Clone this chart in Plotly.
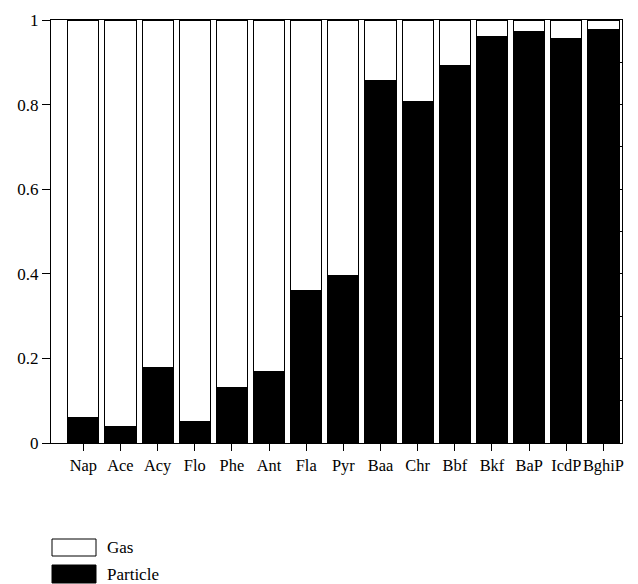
import plotly.graph_objects as go

categories = ["Nap", "Ace", "Acy", "Flo", "Phe", "Ant", "Fla", "Pyr",
              "Baa", "Chr", "Bbf", "Bkf", "BaP", "IcdP", "BghiP"]
particle = [0.06, 0.04, 0.178, 0.05, 0.131, 0.169, 0.361, 0.395,
            0.858, 0.808, 0.893, 0.962, 0.972, 0.957, 0.977]
gas = [round(1 - p, 3) for p in particle]
series_names = ["Gas", "Particle"]
yticks = [0, 0.2, 0.4, 0.6, 0.8, 1]
ytick_text = ["0", "0.2", "0.4", "0.6", "0.8", "1"]

W, H = 638, 584
L, R, T, B = 51, 622, 20, 443
FONT = "Liberation Serif"
FS = 17
FSX = 16.4

fig = go.Figure()
fig.add_trace(go.Bar(x=categories, y=particle, name=series_names[1],
                     marker=dict(color="black", line=dict(color="black", width=1)),
                     showlegend=False))
fig.add_trace(go.Bar(x=categories, y=gas, name=series_names[0],
                     marker=dict(color="white", line=dict(color="black", width=1)),
                     showlegend=False))
# invisible trace for right-side minor ticks axis
fig.add_trace(go.Scatter(x=[categories[0]], y=[0], yaxis="y2", mode="markers",
                         marker=dict(opacity=0), showlegend=False, hoverinfo="skip"))

def px_x(p):
    return (p - L) / (R - L)

def px_y(p):
    return (B - p) / (B - T)

# custom legend
legend_items = [(series_names[0], "white", 539, 556), (series_names[1], "black", 565, 583)]
for name, fill, y0, y1 in legend_items:
    fig.add_shape(type="rect", xref="paper", yref="paper",
                  x0=px_x(52), x1=px_x(96), y0=px_y(y1), y1=px_y(y0),
                  fillcolor=fill, line=dict(color="black", width=1))
    fig.add_annotation(xref="paper", yref="paper", x=px_x(105), y=px_y((y0 + y1) / 2),
                       text=name, showarrow=False, xanchor="left", yanchor="middle",
                       font=dict(family=FONT, size=FS, color="black"))

fig.update_layout(
    barmode="stack",
    bargap=0.16,
    width=W, height=H,
    margin=dict(l=L, r=W - R, t=T, b=H - B, autoexpand=False),
    paper_bgcolor="white", plot_bgcolor="white",
    font=dict(family=FONT, size=FS, color="black"),
    xaxis=dict(showline=True, linecolor="black", linewidth=1, mirror=True,
               ticks="outside", ticklen=7, tickcolor="black", tickwidth=1,
               tickangle=0, showgrid=False, tickfont=dict(family=FONT, size=FSX)),
    yaxis=dict(range=[0, 1], tickvals=yticks, ticktext=ytick_text,
               showline=True, linecolor="black", linewidth=1,
               ticks="outside", ticklen=8, tickcolor="black", tickwidth=1,
               showgrid=False, zeroline=False, tickfont=dict(family=FONT, size=FS)),
    yaxis2=dict(range=[0, 1], overlaying="y", side="right", dtick=0.1,
                showline=True, linecolor="black", linewidth=1,
                ticks="inside", ticklen=4, tickcolor="black",
                showticklabels=False, showgrid=False, zeroline=False),
)

fig.write_html("out.html", config={"displayModeBar": False},
               post_script="document.body.style.margin='0';document.body.style.overflow='hidden';")
